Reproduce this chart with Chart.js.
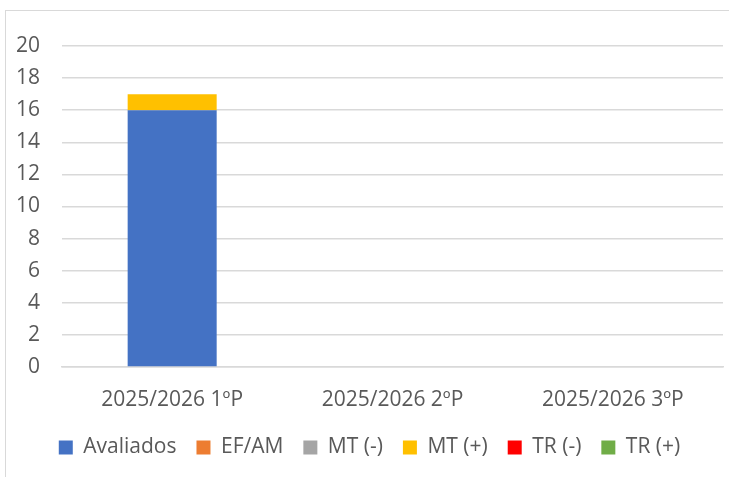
<!DOCTYPE html>
<html>
<head>
<meta charset="utf-8">
<script src="https://cdn.jsdelivr.net/npm/chart.js@4"></script>
<style>
  html, body { margin: 0; padding: 0; background: #fff; }
  #frame { position: absolute; left: 5px; top: 10px; width: 740px; height: 480px; border: 1px solid #d9d9d9; }
  #wrap { position: absolute; left: 0; top: 0; width: 729px; height: 477px; }
</style>
</head>
<body>
<div id="frame"></div>
<div id="wrap"><canvas id="chart" width="729" height="477"></canvas></div>
<script>
const categories = ["2025/2026 1ºP", "2025/2026 2ºP", "2025/2026 3ºP"];
const avaliados = [16, null, null];
const efAm = [null, null, null];
const mtMinus = [null, null, null];
const mtPlus = [1, null, null];
const trMinus = [null, null, null];
const trPlus = [null, null, null];
const yTicks = [0, 2, 4, 6, 8, 10, 12, 14, 16, 18, 20];

const font = { family: "'Open Sans', sans-serif", size: 21 };
const legendFont = { family: "'Open Sans', sans-serif", size: 21 };
const textColor = "#595959";

const mk = (label, data, color) => ({
  label,
  data,
  backgroundColor: color,
  borderWidth: 0,
  barPercentage: 0.808,
  categoryPercentage: 0.5
});

new Chart($("chart"), {
  type: "bar",
  data: {
    labels: categories,
    datasets: [
      mk("Avaliados", avaliados, "#4472c4"),
      mk("EF/AM", efAm, "#ed7d31"),
      mk("MT (-)", mtMinus, "#a5a5a5"),
      mk("MT (+)", mtPlus, "#ffc000"),
      mk("TR (-)", trMinus, "#ff0000"),
      mk("TR (+)", trPlus, "#70ad47")
    ]
  },
  options: {
    responsive: false,
    animation: false,
    layout: { padding: { top: 46, right: 6, left: 16, bottom: 9 } },
    plugins: {
      tooltip: { enabled: false },
      legend: {
        position: "bottom",
        labels: {
          font: legendFont,
          color: textColor,
          boxWidth: 14,
          boxHeight: 14,
          padding: 20
        }
      }
    },
    scales: {
      x: {
        stacked: true,
        grid: { display: false },
        border: { color: "#d9d9d9", width: 1.5 },
        ticks: { font, color: textColor, padding: 12 },
        afterFit: (axis) => { axis.height = 50; }
      },
      y: {
        stacked: true,
        min: 0,
        max: 20,
        afterBuildTicks: (axis) => { axis.ticks = yTicks.map((v) => ({ value: v })); },
        afterFit: (axis) => { axis.width = 46; },
        grid: { color: "#d9d9d9", lineWidth: 1.5, drawTicks: false },
        border: { display: false },
        ticks: { font, color: textColor, padding: 22 }
      }
    }
  }
});

function $(id) { return document.getElementById(id); }
</script>
</body>
</html>
